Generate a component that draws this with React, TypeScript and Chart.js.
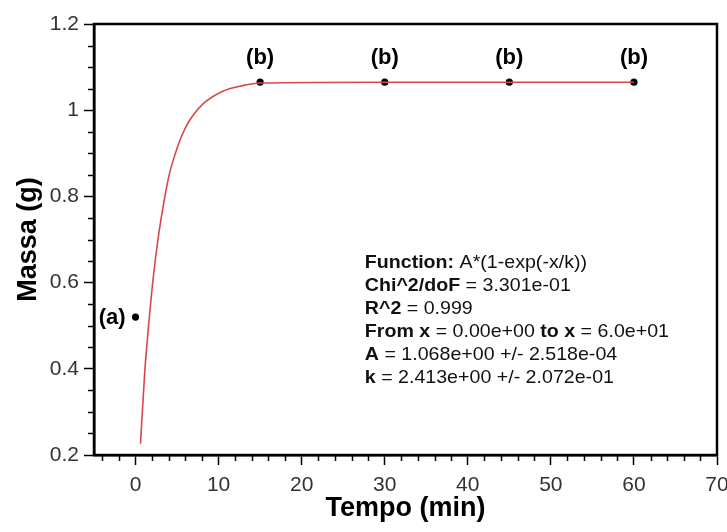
import React, { useEffect, useRef } from 'react';
import { Chart, registerables } from 'chart.js';

Chart.register(...registerables);

// Fitted curve
const curveX = [0.6, 1.1, 1.6, 2.1, 2.7, 3.6, 4.1, 4.7, 5.3, 5.9, 6.5, 7.5, 8.5, 10.5, 12.9, 15, 30, 45, 60];
const curveY = [0.226, 0.39, 0.506, 0.606, 0.7, 0.807, 0.854, 0.894, 0.928, 0.955, 0.976, 1.002, 1.021, 1.044, 1.057, 1.063, 1.065, 1.065, 1.065];

// Measured points
const pointX = [0, 15, 30, 45, 60];
const pointY = [0.52, 1.065, 1.065, 1.065, 1.065];
const pointLabels = ['(a)', '(b)', '(b)', '(b)', '(b)'];

// Axis ranges / ticks
const xMin = -5;
const xMax = 70;
const xMajorStep = 10;
const xMinorStep = 2;
const yMin = 0.2;
const yMax = 1.2;
const yMajorStep = 0.2;
const yMinorStep = 0.05;

const xTitle = 'Tempo (min)';
const yTitle = 'Massa (g)';

// Fit annotation: [text, bold]
const annotationLines: [string, boolean][][] = [
  [['Function: ', true], ['A*(1-exp(-x/k))', false]],
  [['Chi^2/doF', true], [' = 3.301e-01', false]],
  [['R^2', true], [' = 0.999', false]],
  [['From x', true], [' = 0.00e+00 ', false], ['to x', true], [' = 6.0e+01', false]],
  [['A', true], [' = 1.068e+00 +/- 2.518e-04', false]],
  [['k', true], [' = 2.413e+00 +/- 2.072e-01', false]],
];

const FONT = "'Liberation Sans', Arial, sans-serif";

const decorPlugin = {
  id: 'decor',
  afterDraw(chart: any) {
    const { ctx, chartArea, scales } = chart;
    const xs = scales.x;
    const ys = scales.y;
    ctx.save();
    // minor ticks
    ctx.strokeStyle = '#000';
    ctx.lineWidth = 1.5;
    ctx.beginPath();
    for (let v = Math.ceil(xMin / xMinorStep) * xMinorStep; v <= xMax + 1e-9; v += xMinorStep) {
      if (Math.abs(v / xMajorStep - Math.round(v / xMajorStep)) < 1e-6) continue;
      const px = Math.round(xs.getPixelForValue(v)) + 0.5;
      ctx.moveTo(px, chartArea.bottom);
      ctx.lineTo(px, chartArea.bottom + 6);
    }
    for (let i = 0; ; i++) {
      const v = yMin + i * yMinorStep;
      if (v > yMax + 1e-9) break;
      const r = v / yMajorStep;
      if (Math.abs(r - Math.round(r)) < 1e-6) continue;
      const py = Math.round(ys.getPixelForValue(v)) + 0.5;
      ctx.moveTo(chartArea.left - 6, py);
      ctx.lineTo(chartArea.left, py);
    }
    ctx.stroke();
    // frame
    ctx.lineWidth = 2.5;
    ctx.strokeRect(chartArea.left, chartArea.top, chartArea.right - chartArea.left, chartArea.bottom - chartArea.top);

    // point labels
    const meta = chart.getDatasetMeta(1);
    ctx.fillStyle = '#000';
    ctx.font = `bold 22px ${FONT}`;
    ctx.textBaseline = 'middle';
    meta.data.forEach((el: any, i: number) => {
      const lbl = pointLabels[i];
      if (lbl === '(a)') {
        ctx.textAlign = 'right';
        ctx.fillText(lbl, el.x - 10, el.y + 1);
      } else {
        ctx.textAlign = 'center';
        ctx.fillText(lbl, el.x, el.y - 24);
      }
    });

    // annotation
    const ax = xs.getPixelForValue(27.6);
    const ay = ys.getPixelForValue(0.645);
    ctx.textAlign = 'left';
    ctx.textBaseline = 'middle';
    ctx.fillStyle = '#111';
    const fs = 18.5;
    const lh = 22.9;
    const sx = 1.06;
    annotationLines.forEach((segs, li) => {
      let cx = ax;
      const cy = ay + li * lh;
      segs.forEach(([t, b]) => {
        ctx.font = `${b ? 'bold ' : ''}${fs}px ${FONT}`;
        ctx.save();
        ctx.translate(cx, cy);
        ctx.scale(sx, 1);
        ctx.fillText(t, 0, 0);
        ctx.restore();
        cx += ctx.measureText(t).width * sx;
      });
    });
    ctx.restore();
  },
};

export default function App() {
  const ref = useRef<HTMLCanvasElement | null>(null);
  useEffect(() => {
    if (!ref.current) return;
    const curve = curveX.map((x, i) => ({ x, y: curveY[i] }));
    const pts = pointX.map((x, i) => ({ x, y: pointY[i] }));
    const chart = new Chart(ref.current, {
      type: 'scatter',
      data: {
        datasets: [
          {
            label: 'fit',
            data: curve,
            showLine: true,
            borderColor: '#d6474a',
            borderWidth: 1.6,
            pointRadius: 0,
            cubicInterpolationMode: 'monotone',
            fill: false,
          },
          {
            label: 'data',
            data: pts,
            showLine: false,
            pointRadius: 3.6,
            pointBackgroundColor: '#000',
            pointBorderColor: '#000',
            pointBorderWidth: 0,
          },
        ],
      },
      options: {
        responsive: false,
        animation: false,
        devicePixelRatio: 1,
        layout: { padding: { top: 24, right: 10, left: 0, bottom: 0 } },
        plugins: { legend: { display: false }, tooltip: { enabled: false } },
        scales: {
          x: {
            type: 'linear',
            min: xMin,
            max: xMax,
            ticks: {
              stepSize: xMajorStep,
              color: '#333',
              font: { family: FONT, size: 21 },
              padding: 8,
              maxRotation: 0,
              autoSkip: false,
            },
            afterBuildTicks: (s: any) => {
              s.ticks = s.ticks.filter((t: any) => Math.abs(t.value / xMajorStep - Math.round(t.value / xMajorStep)) < 1e-6);
            },
            afterFit: (s: any) => {
              s.height = 77;
              s.paddingLeft = 0;
              s.paddingRight = 0;
            },
            grid: { drawOnChartArea: false, drawTicks: true, tickLength: 10, tickColor: '#000', tickWidth: 1.5 },
            border: { display: true, color: '#000', width: 2.5 },
            title: {
              display: true,
              text: xTitle,
              color: '#000',
              font: { family: FONT, size: 27, weight: 'bold' },
              padding: { top: 0, bottom: 7 },
            },
          },
          y: {
            type: 'linear',
            min: yMin,
            max: yMax,
            ticks: {
              stepSize: yMajorStep,
              color: '#333',
              font: { family: FONT, size: 21 },
              padding: 5,
              callback: (v: any) => String(Math.round(Number(v) * 10) / 10),
            },
            afterFit: (s: any) => {
              s.width = 94;
            },
            grid: { drawOnChartArea: false, drawTicks: true, tickLength: 10, tickColor: '#000', tickWidth: 1.5 },
            border: { display: true, color: '#000', width: 2.5 },
            title: {
              display: true,
              text: yTitle,
              color: '#000',
              font: { family: FONT, size: 27, weight: 'bold' },
              padding: { top: 12, bottom: 0 },
            },
          },
        },
      },
      plugins: [decorPlugin],
    } as any);
    return () => chart.destroy();
  }, []);
  return (
    <div style={{ position: 'fixed', left: 0, top: 0, width: 727, height: 532, background: '#fff' }}>
      <canvas ref={ref} width={727} height={532} style={{ display: 'block', width: 727, height: 532 }} />
    </div>
  );
}
